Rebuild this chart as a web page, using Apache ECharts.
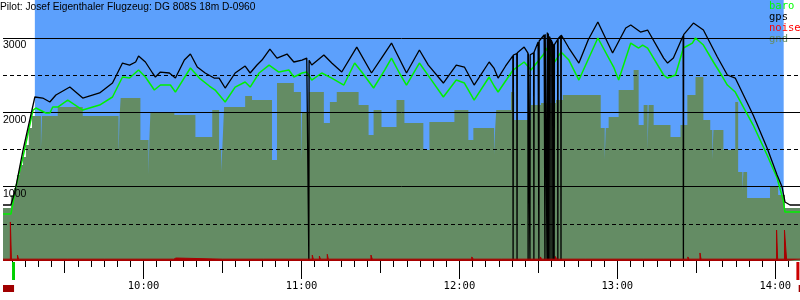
<!DOCTYPE html>
<html><head><meta charset="utf-8">
<script src="https://cdn.jsdelivr.net/npm/echarts@6/dist/echarts.min.js"></script>
<style>html,body{margin:0;padding:0;background:#fff}#c{width:800px;height:300px}</style>
</head><body><div id="c"></div>
<script>
// ---- texts ----
const titleText = 'Pilot: Josef Eigenthaler Flugzeug: DG 808S 18m D-0960';
const legendNames = ['baro', 'gps', 'noise', 'gnd'];
// ---- axes (time in minutes after midnight, altitude in m) ----
const xMin = 546.6, xMax = 849.4;
const yMin = 0, yMax = 3511;
const hourTicks = [600, 660, 720, 780, 840];
const hourLabels = ['10:00', '11:00', '12:00', '13:00', '14:00'];
const halfHourTicks = [570, 630, 690, 750, 810];
const yLabelValues = [1000, 2000, 3000];
const yLabels = ['1000', '2000', '3000'];
const gridSolid = [1000, 2000, 3000];
const gridDashed = [500, 1500, 2500];
// ---- flight events ----
const flightStart = 558.7, flightEnd = 843.2;
const takeoffTime = 550.6;
const landingTime = 848.6;
const rangeBars = [[546.6, 550.8], [848.9, 849.4]];
// ---- series ----
const gps = [
[546.6,753],[549.6,753],[551.1,928],[554.2,1490],[558.7,2206],[561.7,2192],[564.4,2139],[566.7,2233],[572.0,2340],[576.9,2192],[583.3,2260],[588.2,2394],[590.1,2529],[592.0,2663],[594.7,2636],[597.0,2677],[598.1,2757],[600.7,2677],[603.4,2529],[604.5,2475],[606.4,2542],[609.8,2529],[612.1,2461],[615.5,2703],[617.8,2784],[620.4,2609],[623.4,2529],[626.8,2461],[628.7,2461],[631.0,2327],[634.8,2529],[638.6,2623],[640.5,2529],[643.1,2636],[645.0,2703],[648.0,2851],[650.7,2730],[654.5,2784],[657.1,2677],[660.2,2703],[662.0,2730],
[662.7,2710],[662.8,0],[662.9,2700],
[663.9,2636],[668.5,2771],[671.5,2663],[675.3,2542],[681.0,2878],[686.6,2529],[690.4,2730],[694.2,2932],[699.9,2529],[704.8,2838],[708.2,2636],[713.9,2394],[718.8,2636],[721.9,2609],[725.6,2367],[731.3,2677],[733.2,2590],[734.7,2461],[737.5,2620],
[740.3,2760],[740.4,0],[740.5,2771],
[741.8,2790],[741.9,0],[742.0,2800],
[744.6,2878],
[746.0,2800],[746.1,0],[746.2,2790],[746.7,2780],[746.8,0],[746.9,2775],
[747.6,2771],
[748.2,2800],[748.3,0],[748.4,2810],
[749.9,2946],
[750.1,2950],[750.2,0],[750.3,2960],
[752.2,3040],
[752.4,3045],[752.5,0],[752.6,3050],
[753.2,3070],[753.3,0],[753.4,3075],
[753.6,3080],[753.7,0],[753.8,3060],
[754.0,3040],[754.1,0],[754.2,3020],
[754.7,2980],[754.8,0],[754.9,2970],
[755.4,2930],[755.5,0],[755.6,2920],
[755.9,2900],[756.0,0],[756.1,2910],
[757.3,2980],[757.4,0],[757.5,2990],
[758.5,3030],[758.6,0],[758.7,3040],
[761.6,2865],[765.4,2663],[769.0,2980],[772.6,3215],[778.2,2798],[783.2,3134],[785.1,3174],[788.8,3080],[791.5,3107],[797.6,2730],[799.1,2663],[801.3,2730],
[805.0,3030],[805.1,0],[805.2,3045],
[808.9,3201],[812.7,3107],[818.0,2744],[821.8,2502],[824.8,2461],[831.6,1964],[836.9,1520],[840.7,1157],[842.6,995],[843.7,794],[845.6,753],[849.4,753]
];
const baro = [
[546.6,632],[549.6,632],[551.5,995],[554.2,1399],[558.0,2031],[559.1,2058],[562.9,1991],[564.4,1991],[565.5,2071],[567.4,2071],[571.2,2165],[576.9,2031],[583.3,2098],[588.2,2206],[592.0,2475],[594.7,2461],[598.1,2569],[600.7,2475],[604.1,2300],[606.4,2367],[610.2,2367],[612.1,2273],[617.8,2596],[621.2,2461],[625.0,2354],[627.2,2300],[631.0,2139],[634.8,2340],[638.6,2408],[640.5,2340],[643.9,2529],[647.7,2636],[651.4,2542],[655.2,2569],[657.1,2475],[660.2,2529],[662.0,2542],[663.9,2434],[667.7,2529],[671.5,2461],[676.1,2367],[680.2,2663],[682.9,2542],[687.4,2327],[691.6,2569],[694.2,2730],[697.2,2529],[699.9,2367],[704.8,2663],[709.4,2434],[713.9,2206],[718.8,2434],[721.9,2394],[725.6,2165],[731.3,2475],[733.2,2354],[734.7,2273],[740.4,2569],[744.6,2677],[747.2,2569],[751.8,2771],[753.6,2878],[755.9,2663],[758.6,2811],[761.6,2703],[765.4,2434],[772.6,3000],[778.6,2609],[780.5,2434],[785.1,2932],[788.1,2865],[789.6,2905],[791.5,2865],[797.6,2502],[799.1,2461],[802.1,2502],[805.1,2865],[808.5,2932],[809.7,3000],[812.7,2905],[816.5,2677],[819.1,2529],[821.8,2367],[824.8,2273],[831.6,1829],[836.9,1426],[840.7,1116],[843.0,820],[843.7,659],[849.4,659]
];
const gnd = [
[546.6,713],[549.6,888],[550.8,982],[551.9,1157],[553.0,1291],[554.2,1399],[555.3,1560],[556.4,1789],[557.6,1950],
[561.0,1493],[561.4,1950],
[567.4,2071],[576.9,1950],
[590.5,1426],[590.9,1950],
[591.3,2192],[598.8,1627],[601.9,1157],[602.2,1627],[602.6,1991],[611.7,1964],[619.7,1668],[626.1,2031],[628.7,1493],[629.5,1197],[629.9,1493],[630.6,2071],[638.6,2219],[641.2,2165],[648.8,1358],[650.7,2394],[657.1,2273],
[659.8,1320],[660.2,2004],[662.8,2273],[668.5,1856],[670.8,2139],[673.4,2273],[681.7,2098],[685.5,1695],[687.4,2031],[690.4,1802],[696.1,2165],[699.1,1856],[706.3,1493],[708.6,1870],[718.1,2031],[723.4,1627],[725.3,1789],
[733.2,1426],[733.6,1789],
[734.0,2031],[739.6,2273],[740.8,1896],[747.2,2098],[751.0,2125],[756.7,2165],[759.3,2233],[773.7,1789],
[775.2,1358],[775.6,1789],
[776.7,1937],[780.5,2300],[786.2,2569],[788.1,1829],[790.0,2098],
[791.5,1493],[791.9,2098],
[793.8,1829],[800.2,1668],[804.0,1829],[806.6,2233],[809.7,2475],[812.7,1896],[815.3,1762],
[816.1,1358],[816.5,1762],
[820.3,1493],[824.8,2139],[825.9,1197],
[827.5,950],[827.9,1197],
[829.3,847],[838.0,995],[841.1,888],[843.7,713],[849.4,713]
];
const noise = [
[546.6,25],[549.4,525],[549.8,25],[552.1,80],[552.5,25],[560.0,40],[560.3,25],[571.0,35],[571.4,25],[585.2,40],[585.5,25],[597.5,35],[597.8,25],
[611.5,40],[612.3,25],[630.0,40],[630.3,25],[645.6,35],[645.9,25],[655.0,45],[655.3,25],
[664.1,80],[664.5,25],[666.8,67],[667.2,25],[669.8,90],[670.2,25],[686.4,80],[686.9,25],[700.5,40],[700.8,25],
[724.7,55],[725.3,25],[736.0,40],[736.3,25],[750.8,55],[751.2,25],[756.5,60],[756.9,25],[768.0,35],[768.3,25],[790.0,40],[790.3,25],
[806.8,55],[807.2,25],[811.4,108],[811.8,25],[820.0,40],[820.3,25],[840.5,417],[840.9,25],[843.5,417],[843.9,215],[844.3,25],[849.4,25]
];

const fiveMinTicks = [];
for (let m = 550; m <= 845; m += 5) fiveMinTicks.push(m);

const monoFont = 'DejaVu Sans Mono';
const sansFont = 'Liberation Sans';
const BLUE = '#5ca0fc', GND = '#648c64', BARO = '#00f000', NOISE = '#a80000';

function xAxisBase(extra) {
  return Object.assign({
    type: 'value', min: xMin, max: xMax, position: 'bottom',
    axisLine: { show: false }, splitLine: { show: false },
    axisLabel: { show: false }
  }, extra);
}

const chart = echarts.init(document.getElementById('c'), null, { renderer: 'canvas' });
chart.setOption({
  animation: false,
  backgroundColor: '#ffffff',
  title: {
    text: titleText, left: 0, top: 0, padding: [2, 0, 0, 0],
    textStyle: { fontFamily: sansFont, fontSize: 10.2, fontWeight: 'normal', color: '#000' }
  },
  legend: {
    orient: 'vertical', left: 764, top: 1, itemGap: 0, itemWidth: 0, itemHeight: 10, icon: 'none',
    selectedMode: false, padding: 0,
    textStyle: { fontFamily: monoFont, fontSize: 10.5, lineHeight: 10.5, padding: 0 },
    data: [
      { name: legendNames[0], textStyle: { color: '#00ff00' } },
      { name: legendNames[1], textStyle: { color: '#000000' } },
      { name: legendNames[2], textStyle: { color: '#ff0000' } },
      { name: legendNames[3], textStyle: { color: GND } }
    ]
  },
  grid: { left: 0, right: 0, top: 0, bottom: 39 },
  xAxis: [
    xAxisBase({
      axisTick: { show: true, length: 18, customValues: hourTicks, lineStyle: { color: '#000' } },
      axisLabel: {
        show: true, customValues: hourTicks, margin: 20,
        fontFamily: monoFont, fontSize: 10.5, color: '#000',
        formatter: v => hourLabels[hourTicks.indexOf(v)] || ''
      }
    }),
    xAxisBase({ axisTick: { show: true, length: 12, customValues: halfHourTicks, lineStyle: { color: '#000' } } }),
    xAxisBase({ axisTick: { show: true, length: 6, customValues: fiveMinTicks, lineStyle: { color: '#000' } } })
  ],
  yAxis: {
    type: 'value', min: yMin, max: yMax, z: 10,
    axisLine: { show: false }, axisTick: { show: false }, splitLine: { show: false },
    axisLabel: {
      show: true, inside: true, margin: 0, customValues: yLabelValues, verticalAlign: 'top',
      padding: [2, 0, 0, 0], fontFamily: sansFont, fontSize: 10.5, color: '#000',
      formatter: v => yLabels[yLabelValues.indexOf(v)] || ''
    }
  },
  series: [
    {
      name: 'gnd', type: 'line', data: gnd, step: 'end', showSymbol: false, symbol: 'none', z: 2,
      color: GND, lineStyle: { width: 0, color: GND }, areaStyle: { color: GND, opacity: 1 },
      markArea: { silent: true, z: 1, itemStyle: { color: BLUE, opacity: 1 }, data: [[{ xAxis: flightStart }, { xAxis: flightEnd }]] },
      markLine: {
        silent: true, symbol: 'none', z: 5, label: { show: false }, animation: false,
        data: gridSolid.map(v => ({ yAxis: v, lineStyle: { color: '#000', width: 1, type: 'solid' } }))
          .concat(gridDashed.map(v => ({ yAxis: v, lineStyle: { color: '#000', width: 1, type: [4, 3] } })))
      }
    },
    {
      name: 'baro', type: 'line', data: baro, showSymbol: false, symbol: 'none', z: 6,
      color: BARO, lineStyle: { width: 1.5, color: BARO }
    },
    {
      name: 'gps', type: 'line', data: gps, showSymbol: false, symbol: 'none', z: 7,
      color: '#000', lineStyle: { width: 1.3, color: '#000' }
    },
    {
      name: 'noise', type: 'line', data: noise, step: 'end', showSymbol: false, symbol: 'none', z: 8,
      color: NOISE, lineStyle: { width: 1, color: NOISE }, areaStyle: { color: NOISE, opacity: 1 }
    },
    {
      type: 'custom', coordinateSystem: 'cartesian2d', clip: false, silent: true, z: 9,
      data: [[takeoffTime, 0]],
      renderItem: (params, api) => {
        const p = api.coord([api.value(0), 0]);
        return { type: 'rect', shape: { x: p[0] - 1.5, y: p[1] + 1, width: 3, height: 18 }, style: { fill: '#00d000' } };
      }
    },
    {
      type: 'custom', coordinateSystem: 'cartesian2d', clip: false, silent: true, z: 9,
      data: [[landingTime, 0]],
      renderItem: (params, api) => {
        const p = api.coord([api.value(0), 0]);
        return { type: 'rect', shape: { x: p[0] - 1.5, y: p[1] + 1, width: 3, height: 18 }, style: { fill: '#cc0000' } };
      }
    },
    {
      type: 'custom', coordinateSystem: 'cartesian2d', clip: false, silent: true, z: 9,
      data: rangeBars, encode: { x: [0, 1] },
      renderItem: (params, api) => {
        const p0 = api.coord([api.value(0), 0]);
        const p1 = api.coord([api.value(1), 0]);
        return { type: 'rect', shape: { x: p0[0], y: p0[1] + 24, width: Math.max(1, p1[0] - p0[0]), height: 7 }, style: { fill: '#a00000' } };
      }
    }
  ]
});
</script></body></html>
